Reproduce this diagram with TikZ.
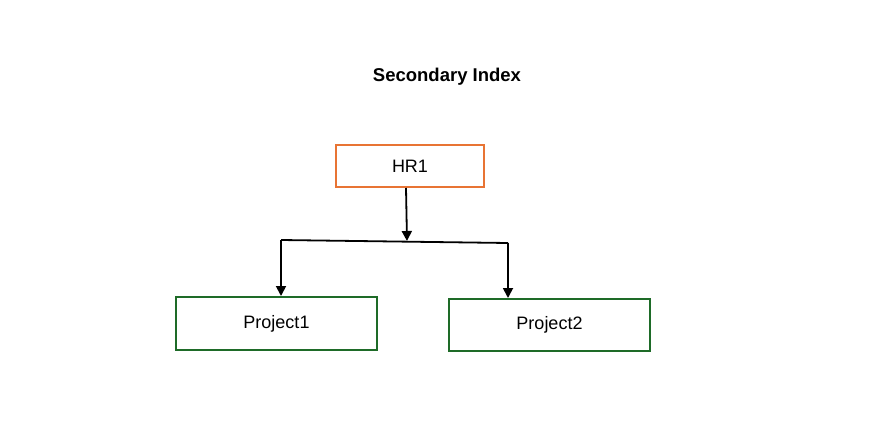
\documentclass[tikz,border=0pt]{standalone}
\usepackage{fontspec}
\setmainfont{Liberation Sans}
\usetikzlibrary{arrows.meta}
\definecolor{orangeb}{HTML}{E87434}
\definecolor{greenb}{HTML}{1E6B28}
\begin{document}
\begin{tikzpicture}[x=1pt,y=-1pt,
  box/.style={draw, line width=2pt, minimum width=#1, inner sep=0pt, font=\fontsize{18}{21}\selectfont},
  conn/.style={line width=1.8pt, -{Triangle[length=10pt,width=10pt]}},
  seg/.style={line width=1.8pt}]
\useasboundingbox (0,0) rectangle (896,439);
\node[font=\bfseries\fontsize{18.5}{22}\selectfont] (title) at (447,77) {Secondary Index};
\node[box=148pt, draw=orangeb, minimum height=42pt] (hr) at (410,166) {HR1};
\node[box=201pt, draw=greenb, minimum height=53pt] (p1) at (276.5,323.5) {Project1};
\node[box=201pt, draw=greenb, minimum height=52pt] (p2) at (549.5,325) {Project2};
\coordinate (jm) at (407,241);
\coordinate (jl) at (281,240);
\coordinate (jr) at (508,243);
\draw[conn] (hr.south -| 406,0) -- (jm);
\draw[seg] (jl) -- (jr);
\draw[conn] (jl) -- (jl |- p1.north);
\draw[conn] (jr) -- (jr |- p2.north);
\end{tikzpicture}
\end{document}
